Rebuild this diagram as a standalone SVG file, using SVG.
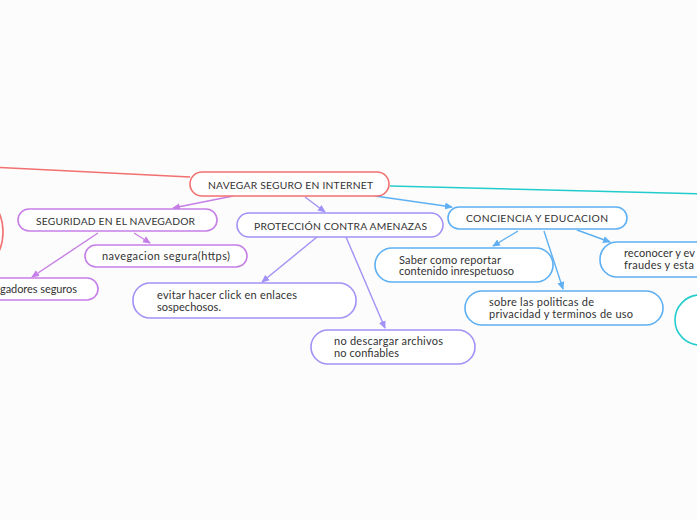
<svg xmlns="http://www.w3.org/2000/svg" width="697" height="520" viewBox="0 0 697 520">
<style>
  .t{font-family:Lato,"Noto Sans","Liberation Sans",sans-serif;font-size:11px;fill:#333333}
  .u{font-family:Lato,"Noto Sans","Liberation Sans",sans-serif;font-size:10.3px;fill:#333333}
  .n{fill:#ffffff;stroke-width:1.6}
  .red{stroke:#f2706f}
  .pur{stroke:#c67fe6}
  .lav{stroke:#a192f6}
  .blu{stroke:#5eb0f3}
  .cya{stroke:#22cccc}
  .c{fill:none;stroke-width:1.4}
</style>
<defs>
  <marker id="ap" viewBox="0 0 8 8" refX="7" refY="4" markerWidth="8" markerHeight="8" markerUnits="userSpaceOnUse" orient="auto"><path d="M0,0.5 L8,4 L0,7.5 z" fill="#c67fe6"/></marker>
  <marker id="al" viewBox="0 0 8 8" refX="7" refY="4" markerWidth="8" markerHeight="8" markerUnits="userSpaceOnUse" orient="auto"><path d="M0,0.5 L8,4 L0,7.5 z" fill="#a192f6"/></marker>
  <marker id="ab" viewBox="0 0 8 8" refX="7" refY="4" markerWidth="8" markerHeight="8" markerUnits="userSpaceOnUse" orient="auto"><path d="M0,0.5 L8,4 L0,7.5 z" fill="#5eb0f3"/></marker>
</defs>
<rect x="0" y="0" width="697" height="520" fill="#fcfcfc"/>
<g id="connectors">
  <line class="c red" x1="190" y1="177" x2="-10" y2="167"/>
  <line class="c cya" x1="390" y1="186" x2="710" y2="194"/>
  <line class="c pur" x1="233" y1="196" x2="173" y2="208" marker-end="url(#ap)"/>
  <line class="c lav" x1="305" y1="197" x2="325" y2="212" marker-end="url(#al)"/>
  <line class="c blu" x1="375" y1="196" x2="452" y2="207" marker-end="url(#ab)"/>
  <line class="c pur" x1="134" y1="233" x2="150" y2="243" marker-end="url(#ap)"/>
  <line class="c pur" x1="98" y1="233" x2="32" y2="277" marker-end="url(#ap)"/>
  <line class="c lav" x1="317" y1="237" x2="262" y2="282" marker-end="url(#al)"/>
  <line class="c lav" x1="346" y1="237" x2="385" y2="328" marker-end="url(#al)"/>
  <line class="c blu" x1="518" y1="231" x2="493" y2="246" marker-end="url(#ab)"/>
  <line class="c blu" x1="544" y1="231" x2="563" y2="289" marker-end="url(#ab)"/>
  <line class="c blu" x1="577" y1="230" x2="610" y2="242" marker-end="url(#ab)"/>
</g>
<g id="left-node"><circle cx="-45" cy="232" r="48" class="n red"/></g>
<g id="right-node"><circle cx="700" cy="320" r="25" class="n cya"/></g>
<g id="root">
  <rect x="190" y="172" width="199" height="24" rx="12" class="n red"/>
  <text class="u" x="208" y="188.5" textLength="165" lengthAdjust="spacing">NAVEGAR SEGURO EN INTERNET</text>
</g>
<g id="seguridad">
  <rect x="18" y="209" width="199" height="22" rx="11" class="n pur"/>
  <text class="u" x="36" y="224.5" textLength="159" lengthAdjust="spacing">SEGURIDAD EN EL NAVEGADOR</text>
</g>
<g id="https">
  <rect x="85" y="245" width="162" height="22" rx="11" class="n pur"/>
  <text class="t" x="102" y="260" textLength="128" lengthAdjust="spacing">navegacion segura(https)</text>
</g>
<g id="navegadores">
  <rect x="-40" y="278" width="138" height="22" rx="11" class="n pur"/>
  <text class="t" x="0" y="292.5" textLength="77" lengthAdjust="spacing">gadores seguros</text>
</g>
<g id="proteccion">
  <rect x="237" y="213" width="206" height="24" rx="12" class="n lav"/>
  <text class="u" x="254" y="229.5" textLength="173" lengthAdjust="spacing">PROTECCIÓN CONTRA AMENAZAS</text>
</g>
<g id="evitar">
  <rect x="133" y="283" width="223" height="35" rx="17" class="n lav"/>
  <text class="t" x="157" y="298.5" textLength="140" lengthAdjust="spacing">evitar hacer click en enlaces</text>
  <text class="t" x="157" y="311" textLength="64" lengthAdjust="spacing">sospechosos.</text>
</g>
<g id="descargar">
  <rect x="311" y="330" width="164" height="34" rx="17" class="n lav"/>
  <text class="t" x="334" y="345" textLength="109" lengthAdjust="spacing">no descargar archivos</text>
  <text class="t" x="334" y="357" textLength="65" lengthAdjust="spacing">no confiables</text>
</g>
<g id="conciencia">
  <rect x="448" y="207" width="179" height="22" rx="11" class="n blu"/>
  <text class="u" x="466" y="222" textLength="142" lengthAdjust="spacing">CONCIENCIA Y EDUCACION</text>
</g>
<g id="saber">
  <rect x="375" y="248" width="178" height="34" rx="17" class="n blu"/>
  <text class="t" x="399" y="263.5" textLength="102" lengthAdjust="spacing">Saber como reportar</text>
  <text class="t" x="399" y="275" textLength="115" lengthAdjust="spacing">contenido inrespetuoso</text>
</g>
<g id="sobre">
  <rect x="465" y="291" width="198" height="34" rx="17" class="n blu"/>
  <text class="t" x="489" y="305.5" textLength="105" lengthAdjust="spacing">sobre las politicas de</text>
  <text class="t" x="489" y="317.5" textLength="144" lengthAdjust="spacing">privacidad y terminos de uso</text>
</g>
<g id="reconocer">
  <rect x="600" y="242" width="140" height="35" rx="17" class="n blu"/>
  <text class="t" x="624" y="256.5" textLength="71" lengthAdjust="spacing">reconocer y ev</text>
  <text class="t" x="624" y="268.5" textLength="70" lengthAdjust="spacing">fraudes y esta</text>
</g>
</svg>
